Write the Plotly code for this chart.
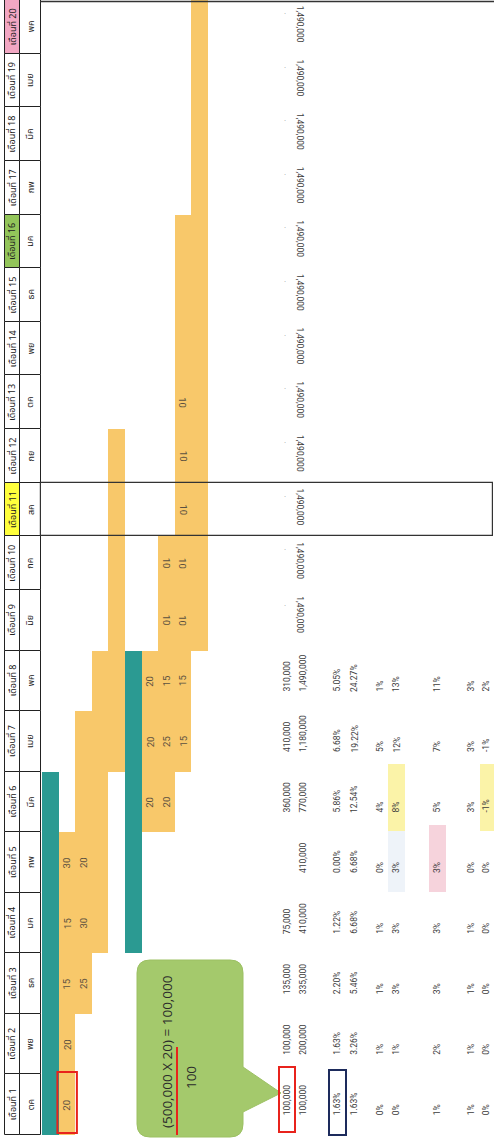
import plotly.graph_objects as go

# ---------------- data ----------------
MONTHS = list(range(1, 21))
HEADER = [f"เดือนที่ {m}" for m in MONTHS]
ABBR = ["ตค", "พย", "ธค", "มค", "กพ", "มีค", "เมย", "พค", "มิย", "กค",
        "สค", "กย", "ตค", "พย", "ธค", "มค", "กพ", "มีค", "เมย", "พค"]

# Gantt lanes: lane index, first month, last month
TEAL_LANE = [0, 5]
TEAL_START = [1, 4]
TEAL_END = [6, 8]
YELLOW_LANE = [1, 2, 3, 4, 6, 7, 8, 9]
YELLOW_START = [1, 3, 4, 7, 6, 6, 7, 9]
YELLOW_END = [5, 7, 8, 12, 8, 10, 16, 20]

# percentages written inside the bars (per month)
PCT_LANE1 = [20, 20, 15, 15, 30] + [None] * 15
PCT_LANE2 = [None, None, 25, 30, 20] + [None] * 15
PCT_LANE6 = [None] * 5 + [20, 20, 20] + [None] * 12
PCT_LANE7 = [None] * 5 + [20, 25, 15, 10, 10] + [None] * 10
PCT_LANE8 = [None] * 6 + [15, 15, 10, 10, 10, 10, 10] + [None] * 7

MONTHLY_COST = ["100,000", "100,000", "135,000", "75,000", "", "360,000", "410,000", "310,000"] + ["·"] * 12
CUM_COST = ["100,000", "200,000", "335,000", "410,000", "410,000", "770,000", "1,180,000", "1,490,000"] + ["1,490,000"] * 12
MONTHLY_PCT = ["1.63%", "1.63%", "2.20%", "1.22%", "0.00%", "5.86%", "6.68%", "5.05%"]
CUM_PCT = ["1.63%", "3.26%", "5.46%", "6.68%", "6.68%", "12.54%", "19.22%", "24.27%"]
ROW_E = ["0%", "1%", "1%", "1%", "0%", "4%", "5%", "1%"]
ROW_F = ["0%", "1%", "3%", "3%", "3%", "8%", "12%", "13%"]
ROW_G = ["1%", "2%", "3%", "3%", "3%", "5%", "7%", "11%"]
ROW_H = ["1%", "1%", "1%", "1%", "0%", "3%", "3%", "3%"]
ROW_I = ["0%", "0%", "0%", "0%", "0%", "-1%", "-1%", "2%"]

CALLOUT_TEXT = "(500,000 X 20) = 100,000"
CALLOUT_DEN = "100"

# ---------------- layout / style constants ----------------
W, H = 494, 1139
SPLIT = 1 - 590 / 1139
BOTTOM_RANGE = [0.434, 9.5]
TOP_RANGE = [9.5, 20.5]
LANE_X0, LANE_W = 42.0, 16.6
HDR1 = (5, 20)
HDR2 = (20, 41)
ROW_X = dict(A=287, B=303, C=337, D=354, E=380, F=396, G=437, H=471, I=486)
ROW_X_TOP = dict(A=285, B=300)

YELLOW = "#f8c86a"
TEAL = "#2b9a92"
GREEN_CALLOUT = "#a4c96c"
HDR_FILL = {11: "#ffff3c", 16: "#93c55a", 20: "#f2a7c3"}
FONT = "Noto Sans Thai, Tahoma, Garuda, Loma, DejaVu Sans, Noto Sans, sans-serif"
NUMFONT = "Liberation Sans Narrow, Roboto, Liberation Sans, sans-serif"
TXT = "#3c3c3c"


def lane_c(i):
    return LANE_X0 + (i + 0.5) * LANE_W


def yref_of(m):
    return "y" if m <= 9 else "y2"


fig = go.Figure()

# header cells (both pages)
for ya in ("y", "y2"):
    fills = [HDR_FILL.get(m, "white") for m in MONTHS]
    fig.add_trace(go.Bar(x=[(HDR1[0] + HDR1[1]) / 2] * 20, y=[1] * 20,
                         base=[m - 0.5 for m in MONTHS], width=HDR1[1] - HDR1[0],
                         marker=dict(color=fills, line=dict(color="#222", width=1)),
                         yaxis=ya, hoverinfo="skip", showlegend=False))
    fig.add_trace(go.Bar(x=[(HDR2[0] + HDR2[1]) / 2] * 20, y=[1] * 20,
                         base=[m - 0.5 for m in MONTHS], width=HDR2[1] - HDR2[0],
                         marker=dict(color="white", line=dict(color="#222", width=1)),
                         yaxis=ya, hoverinfo="skip", showlegend=False))
    # gantt bars
    fig.add_trace(go.Bar(x=[lane_c(i) for i in YELLOW_LANE],
                         y=[e - s + 1 for s, e in zip(YELLOW_START, YELLOW_END)],
                         base=[s - 0.5 for s in YELLOW_START], width=LANE_W,
                         marker=dict(color=YELLOW, line=dict(width=0)),
                         yaxis=ya, hoverinfo="skip", showlegend=False))
    fig.add_trace(go.Bar(x=[lane_c(i) for i in TEAL_LANE],
                         y=[e - s + 1 for s, e in zip(TEAL_START, TEAL_END)],
                         base=[s - 0.5 for s in TEAL_START], width=LANE_W,
                         marker=dict(color=TEAL, line=dict(width=0)),
                         yaxis=ya, hoverinfo="skip", showlegend=False))

# highlighted percentage cells
HL_ROW = ["F", "F", "G", "I"]
HL_MONTH = [5, 6, 5, 6]
HL_COLOR = ["#eef3f9", "#fbf3a8", "#f6d3dc", "#fbf3a8"]
fig.add_trace(go.Bar(x=[ROW_X[r] + (2 if r == "I" else 0) for r in HL_ROW], y=[1.1] * 4,
                     base=[m - 0.48 for m in HL_MONTH], width=[17, 17, 17, 16],
                     marker=dict(color=HL_COLOR, line=dict(width=0)),
                     yaxis="y", hoverinfo="skip", showlegend=False))

# month 11 box
fig.add_trace(go.Bar(x=[(41 + 493) / 2], y=[1], base=[10.5], width=452,
                     marker=dict(color="rgba(0,0,0,0)", line=dict(color="#333", width=1.2)),
                     yaxis="y2", hoverinfo="skip", showlegend=False))

ann = []


def add(x, y, text, yref, angle=-90, size=8.5, color=TXT, family=NUMFONT,
        xanchor="center", yanchor="middle"):
    ann.append(dict(x=x, y=y, xref="x", yref=yref, text=text, textangle=angle,
                    showarrow=False, xanchor=xanchor, yanchor=yanchor, borderpad=0,
                    font=dict(size=size, color=color, family=family)))


# header text
for m, h, a in zip(MONTHS, HEADER, ABBR):
    add((HDR1[0] + HDR1[1]) / 2, m, h, yref_of(m), size=9, color="#222", family=FONT)
    add((HDR2[0] + HDR2[1]) / 2, m, a, yref_of(m), size=9, color="#222", family=FONT)

# numbers inside bars
for lane, vals in ((1, PCT_LANE1), (2, PCT_LANE2), (6, PCT_LANE6), (7, PCT_LANE7), (8, PCT_LANE8)):
    for m, v in zip(MONTHS, vals):
        if v is None:
            continue
        add(lane_c(lane), m, str(v), yref_of(m), angle=-90 if m <= 8 else 90,
            size=9.5, color="#5b5040")


def value_row(xpos_low, xpos_top, vals, size=8.5, color=TXT):
    for m, v in zip(MONTHS, vals):
        if not v:
            continue
        if m <= 8:
            add(xpos_low, m - 0.5 + 0.3, v, "y", angle=-90, size=size, color=color, yanchor="bottom")
        else:
            add(xpos_top, m + 0.5 - 0.08, v, yref_of(m), angle=90, size=size, color=color, yanchor="top")


for m, v in zip(MONTHS, MONTHLY_COST):
    if not v:
        continue
    if v == "·":
        add(ROW_X_TOP["A"], m + 0.25, v, yref_of(m), angle=0, size=8, color="#999")
    else:
        add(ROW_X["A"], m - 0.5 + 0.3, v, "y", angle=-90, yanchor="bottom")
value_row(ROW_X["B"], ROW_X_TOP["B"], CUM_COST)
value_row(ROW_X["C"], None, MONTHLY_PCT)
value_row(ROW_X["D"], None, CUM_PCT)
value_row(ROW_X["E"], None, ROW_E)
value_row(ROW_X["F"], None, ROW_F)
value_row(ROW_X["G"], None, ROW_G)
value_row(ROW_X["H"], None, ROW_H)
value_row(ROW_X["I"], None, ROW_I)

# callout texts
add(167, 1.87, CALLOUT_TEXT, "y", angle=-90, size=13.5, color="#2b2b2b", family="Open Sans, sans-serif")
add(191, 1.44, CALLOUT_DEN, "y", angle=-90, size=13.5, color="#2b2b2b", family="Open Sans, sans-serif")

# ---------------- shapes ----------------
def px2m(p):
    return 9.5 - (p - 590) / ((1139 - 590) / (BOTTOM_RANGE[1] - BOTTOM_RANGE[0]))


cx0, cx1 = 137, 243
cyt, cyb = px2m(960), px2m(1137)
rx, ry = 13, 13 / 60.56
p1, tip, p2 = px2m(1067), px2m(1093), px2m(1112)
xtip = 281
path = (f"M {cx0+rx},{cyt} L {cx1-rx},{cyt} Q {cx1},{cyt} {cx1},{cyt-ry} "
        f"L {cx1},{p1} L {xtip},{tip} L {cx1},{p2} "
        f"L {cx1},{cyb+ry} Q {cx1},{cyb} {cx1-rx},{cyb} "
        f"L {cx0+rx},{cyb} Q {cx0},{cyb} {cx0},{cyb+ry} "
        f"L {cx0},{cyt-ry} Q {cx0},{cyt} {cx0+rx},{cyt} Z")

shapes = [
    dict(type="path", path=path, xref="x", yref="y", fillcolor=GREEN_CALLOUT,
         line=dict(color="#9cc063", width=1), layer="below"),
    dict(type="line", xref="x", yref="y", x0=177, x1=177, y0=px2m(1135), y1=px2m(1047),
         line=dict(color="#e8231c", width=2)),
    dict(type="rect", xref="x", yref="y", x0=lane_c(1) - 9.5, x1=lane_c(1) + 10,
         y0=px2m(1133), y1=px2m(1072), line=dict(color="#e8231c", width=2)),
    dict(type="rect", xref="x", yref="y", x0=279, x1=295,
         y0=px2m(1132), y1=px2m(1067), line=dict(color="#e8231c", width=2)),
    dict(type="rect", xref="x", yref="y", x0=329, x1=346,
         y0=px2m(1135), y1=px2m(1070), line=dict(color="#1d2b5c", width=2)),
    dict(type="line", xref="x", yref="y2", x0=40, x1=494, y0=20.47, y1=20.47,
         line=dict(color="#333", width=1.5)),
]

fig.update_layout(
    width=W, height=H, margin=dict(l=0, r=0, t=0, b=0),
    paper_bgcolor="white", plot_bgcolor="white",
    barmode="overlay", bargap=0,
    annotations=ann, shapes=shapes,
    xaxis=dict(range=[0, W], visible=False, fixedrange=True),
    yaxis=dict(range=BOTTOM_RANGE, domain=[0, SPLIT], visible=False, fixedrange=True),
    yaxis2=dict(range=TOP_RANGE, domain=[SPLIT, 1], visible=False, fixedrange=True, anchor="x"),
    showlegend=False,
)

fig.write_html("out.html", config={"displayModeBar": False},
               post_script="document.body.style.margin='0';document.body.style.overflow='hidden';")
